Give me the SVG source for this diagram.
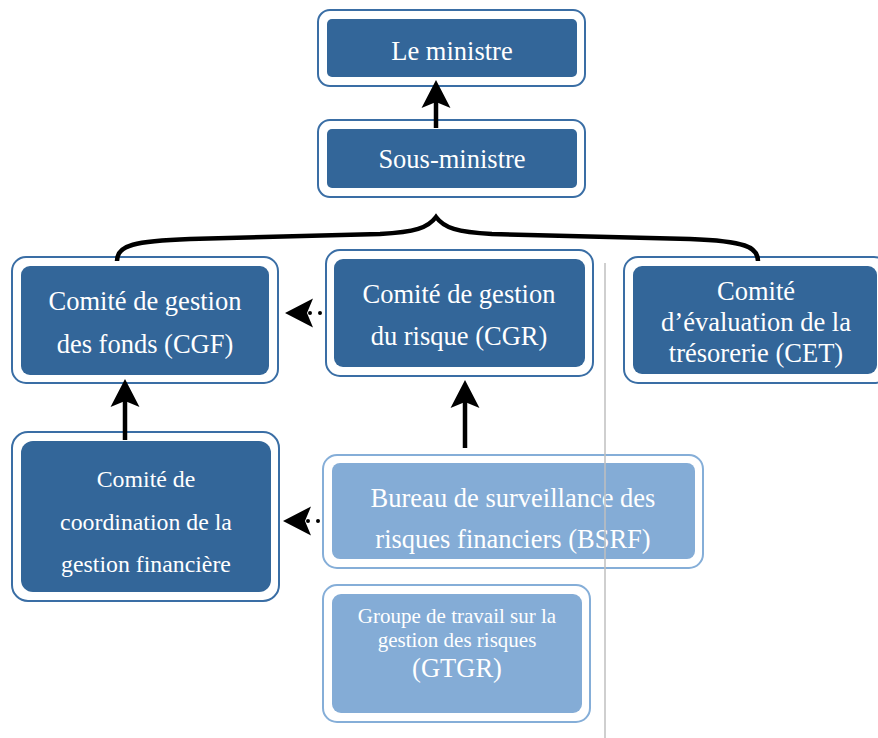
<svg xmlns="http://www.w3.org/2000/svg" width="878" height="738" viewBox="0 0 878 738">
<defs>
<style>
.outer-d{fill:#ffffff;stroke:#3a6ea5;stroke-width:2}
.inner-d{fill:#336699}
.outer-l{fill:#ffffff;stroke:#85aed8;stroke-width:2}
.inner-l{fill:#84acd6}
text{font-family:"Liberation Serif","Times New Roman",serif;fill:#ffffff;text-anchor:middle}
.t26{font-size:26.5px}
.t24{font-size:23.8px}
.t21{font-size:21px}
.solid{fill:none;stroke:#000000;stroke-width:4.5}
.dots{fill:none;stroke:#000000;stroke-width:4;stroke-linecap:round;stroke-dasharray:0 10}
</style>
<marker id="stealth" viewBox="-8 -16 32 32" refX="0" refY="0" markerWidth="32" markerHeight="32" markerUnits="userSpaceOnUse" orient="auto">
<path d="M22,0 L-6,-14.5 L0,0 L-6,14.5 Z" fill="#000000"/>
</marker>
</defs>

<g id="ministre">
<rect class="outer-d" x="318" y="10" width="267" height="76" rx="12"/>
<rect class="inner-d" x="327" y="19" width="250" height="58" rx="5"/>
<text class="t26" x="452" y="60">Le ministre</text>
</g>

<g id="sous-ministre">
<rect class="outer-d" x="318" y="120" width="267" height="77" rx="12"/>
<rect class="inner-d" x="327" y="129" width="250" height="59" rx="5"/>
<text class="t26" x="452" y="168">Sous-ministre</text>
</g>

<g id="cgf">
<rect class="outer-d" x="12" y="257" width="266" height="126" rx="14"/>
<rect class="inner-d" x="21" y="266" width="248" height="109" rx="9"/>
<text class="t26" x="145" y="310">Comité de gestion</text>
<text class="t26" x="145" y="353">des fonds (CGF)</text>
</g>

<g id="cgr">
<rect class="outer-d" x="326" y="250" width="267" height="126" rx="14"/>
<rect class="inner-d" x="334" y="259" width="251" height="108" rx="9"/>
<text class="t26" x="459" y="303">Comité de gestion</text>
<text class="t26" x="459" y="345">du risque (CGR)</text>
</g>

<g id="cet">
<rect class="outer-d" x="624" y="257" width="264" height="126" rx="14"/>
<rect class="inner-d" x="633" y="266" width="244" height="108" rx="9"/>
<text class="t26" x="756" y="300">Comité</text>
<text class="t26" x="756" y="331">d’évaluation de la</text>
<text class="t26" x="756" y="362">trésorerie (CET)</text>
</g>

<g id="ccgf">
<rect class="outer-d" x="12" y="432" width="267" height="169" rx="16"/>
<rect class="inner-d" x="21" y="441" width="250" height="151" rx="12"/>
<text class="t24" x="146" y="487">Comité de</text>
<text class="t24" x="146" y="530">coordination de la</text>
<text class="t24" x="146" y="572">gestion financière</text>
</g>

<g id="bsrf">
<rect class="outer-l" x="323" y="455" width="380" height="113" rx="14"/>
<rect class="inner-l" x="332" y="463" width="363" height="96" rx="8"/>
<text class="t26" x="513" y="507">Bureau de surveillance des</text>
<text class="t26" x="513" y="548">risques financiers (BSRF)</text>
</g>

<g id="gtgr">
<rect class="outer-l" x="323" y="585" width="267" height="137" rx="14"/>
<rect class="inner-l" x="332" y="594" width="250" height="119" rx="9"/>
<text class="t21" x="457" y="623">Groupe de travail sur la</text>
<text class="t21" x="457" y="647">gestion des risques</text>
<text class="t26" x="457" y="677">(GTGR)</text>
</g>

<g id="connectors">
<path class="solid" d="M436,128 L436,102" marker-end="url(#stealth)"/>
<path class="solid" d="M117,261 C117,245 135,241 190,239 L380,234 C415,232 428,228 436,217 C444,228 457,232 492,234 L690,239 C745,241 758,247 758,261"/>
<path class="solid" d="M125,440 L125,401" marker-end="url(#stealth)"/>
<path class="solid" d="M465,448 L465,402" marker-end="url(#stealth)"/>
<path class="dots" d="M320,313 L307,313" marker-end="url(#stealth)"/>
<path class="dots" d="M318,521 L305,521" marker-end="url(#stealth)"/>
</g>

<line x1="605" y1="263" x2="605" y2="738" stroke="#bfbfbf" stroke-width="1.5"/>
</svg>
